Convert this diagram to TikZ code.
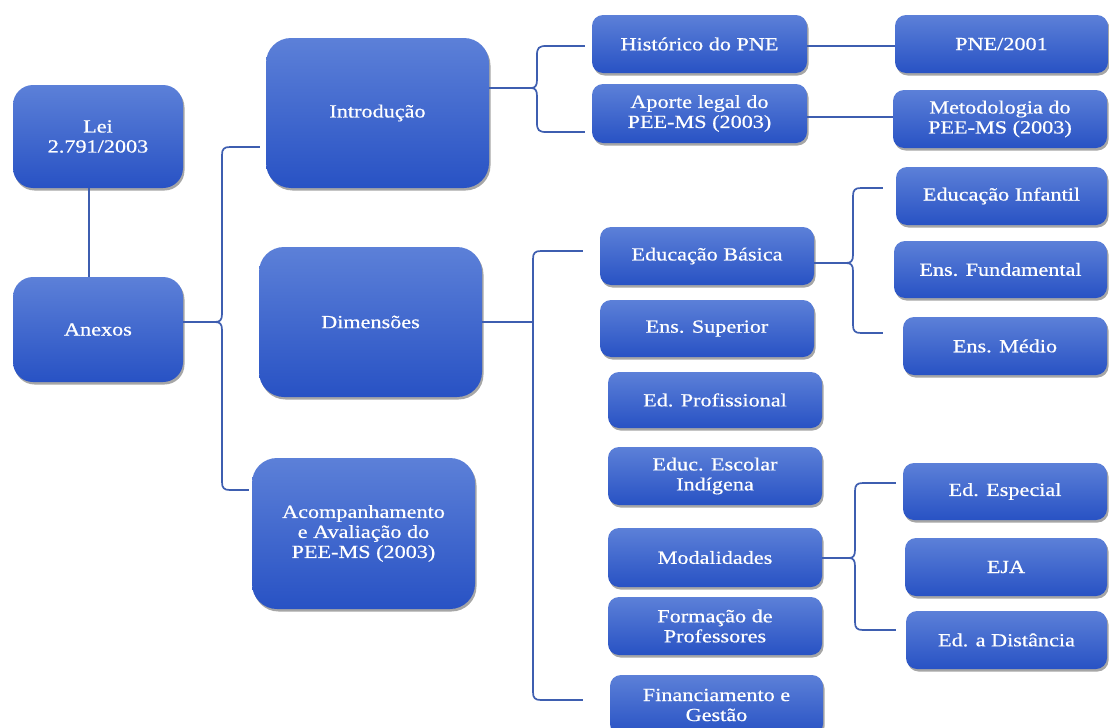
\documentclass[tikz,border=0pt]{standalone}
\usepackage{fontspec}
\setmainfont{Liberation Serif}[FakeStretch=1.2,FakeBold=0.6]
\usetikzlibrary{shadows,calc}
\definecolor{linec}{RGB}{62,94,176}
\definecolor{boxtop}{RGB}{92,128,216}
\definecolor{boxbot}{RGB}{40,82,196}
\begin{document}
\begin{tikzpicture}[x=1pt,y=-1pt,
  box/.style={rectangle, rounded corners=#1, top color=boxtop, bottom color=boxbot,
    draw=none, text=white, align=center, inner sep=0pt,
    font=\fontsize{18.5}{20}\selectfont,
    drop shadow={shadow xshift=1.5pt, shadow yshift=-2.5pt, opacity=0.35, fill=black}},
  box/.default=11pt,
  conn/.style={draw=linec, line width=1.7pt}]
\fill[white] (0,0) rectangle (1109,728);
\useasboundingbox (0,0) rectangle (1109,728);

% left column
\node[box=20pt, minimum width=170pt, minimum height=103pt] (lei) at (98,136.5) {Lei\\2.791/2003};
\node[box=20pt, minimum width=170pt, minimum height=105pt] (anexos) at (98,329.5) {Anexos};

% second column
\node[box=25pt, minimum width=223pt, minimum height=150pt] (intro) at (377.5,113) {Introdução};
\node[box=25pt, minimum width=223pt, minimum height=150pt] (dim) at (370.5,322) {Dimensões};
\node[box=25pt, minimum width=223pt, minimum height=151pt] (acomp) at (363.5,533.5) {Acompanhamento\\e Avaliação do\\PEE-MS (2003)};

% third column
\node[box, minimum width=215pt, minimum height=58pt] (hist) at (699.5,44) {Histórico do PNE};
\node[box, minimum width=215pt, minimum height=59pt] (aporte) at (699.5,113.5) {Aporte legal do\\PEE-MS (2003)};
\node[box, minimum width=214pt, minimum height=58pt] (edbas) at (707,256) {Educação Básica};
\node[box, minimum width=214pt, minimum height=57pt] (enssup) at (707,328.5) {Ens. Superior};
\node[box, minimum width=214pt, minimum height=56pt] (edprof) at (715,400) {Ed. Profissional};
\node[box, minimum width=214pt, minimum height=58pt] (educesc) at (715,476) {Educ. Escolar\\Indígena};
\node[box, minimum width=214pt, minimum height=59pt] (modal) at (715,557.5) {Modalidades};
\node[box, minimum width=214pt, minimum height=58pt] (form) at (715,626) {Formação de\\Professores};
\node[box, minimum width=213pt, minimum height=60pt] (financ) at (716.5,705) {Financiamento e\\Gestão};

% fourth column
\node[box, minimum width=213pt, minimum height=58pt] (pne) at (1001.5,44) {PNE/2001};
\node[box, minimum width=214pt, minimum height=58pt] (metod) at (1000,119) {Metodologia do\\PEE-MS (2003)};
\node[box, minimum width=211pt, minimum height=58pt] (edinf) at (1001.5,196) {Educação Infantil};
\node[box, minimum width=213pt, minimum height=57pt] (ensfund) at (1000.5,269.5) {Ens. Fundamental};
\node[box, minimum width=204pt, minimum height=58pt] (ensmed) at (1005,346) {Ens. Médio};
\node[box, minimum width=204pt, minimum height=57pt] (edesp) at (1005,491.5) {Ed. Especial};
\node[box, minimum width=202pt, minimum height=58pt] (eja) at (1006,567) {EJA};
\node[box, minimum width=201pt, minimum height=58pt] (eddist) at (1006.5,640) {Ed. a Distância};

% Lei - Anexos
\draw[conn] ([xshift=-9pt]lei.south) -- ([xshift=-9pt]anexos.north);

% Anexos brace
\coordinate (t1) at (215,322);
\draw[conn] (anexos.east |- t1) -- (t1);
\draw[conn] ([xshift=-6pt]intro.west |- 0,147) -- (230,147) .. controls (224,147) and (222,149) .. (222,155)
  -- (222,314) .. controls (222,320) and (220,322) .. (t1)
  .. controls (220,322) and (222,324) .. (222,330)
  -- (222,482) .. controls (222,488) and (224,490) .. (230,490) -- ([xshift=-3pt]acomp.west |- 0,490);

% Introducao brace
\coordinate (t2) at (531,88);
\draw[conn] (intro.east |- t2) -- (t2);
\draw[conn] ([xshift=-7pt]hist.west |- 0,46) -- (546,46) .. controls (539,46) and (537,48) .. (537,55)
  -- (537,80) .. controls (537,86) and (535,88) .. (t2)
  .. controls (535,88) and (537,90) .. (537,96)
  -- (537,123) .. controls (537,130) and (539,132) .. (546,132) -- ([xshift=-7pt]aporte.west |- 0,132);

\draw[conn] (hist.east |- 0,46) -- (pne.west |- 0,46);
\draw[conn] (aporte.east |- 0,117) -- (metod.west |- 0,117);

% Dimensoes bracket
\coordinate (t3) at (533,322);
\draw[conn] (dim.east |- t3) -- (t3);
\draw[conn] ([xshift=-17pt]edbas.west |- 0,251) -- (541,251) .. controls (535,251) and (533,253) .. (533,259)
  -- (533,692) .. controls (533,698) and (535,700) .. (541,700) -- ([xshift=-27pt]financ.west |- 0,700);

% Educacao Basica brace
\coordinate (t4) at (846,263);
\draw[conn] (edbas.east |- t4) -- (t4);
\draw[conn] ([xshift=-13pt]edinf.west |- 0,188) -- (861,188) .. controls (855,188) and (853,190) .. (853,196)
  -- (853,255) .. controls (853,261) and (851,263) .. (t4)
  .. controls (851,263) and (853,265) .. (853,271)
  -- (853,325) .. controls (853,331) and (855,333) .. (861,333) -- ([xshift=-20pt]ensmed.west |- 0,333);

% Modalidades brace
\coordinate (t5) at (849,558);
\draw[conn] (modal.east |- t5) -- (t5);
\draw[conn] ([xshift=-7pt]edesp.west |- 0,483) -- (863,483) .. controls (857,483) and (855,485) .. (855,491)
  -- (855,550) .. controls (855,556) and (853,558) .. (t5)
  .. controls (853,558) and (855,560) .. (855,566)
  -- (855,622) .. controls (855,628) and (857,630) .. (863,630) -- ([xshift=-10pt]eddist.west |- 0,630);
\end{tikzpicture}
\end{document}
